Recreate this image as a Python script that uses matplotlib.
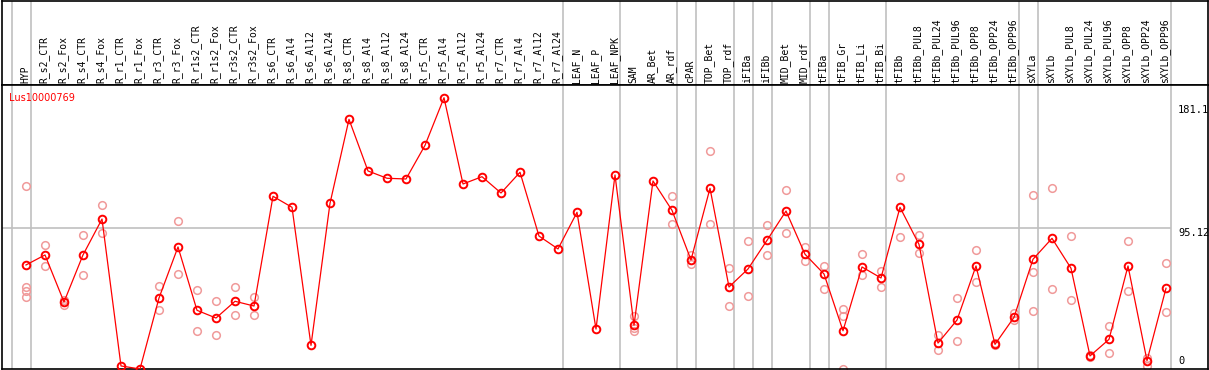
import matplotlib
matplotlib.use("Agg")
import matplotlib.pyplot as plt
import matplotlib.transforms as mtransforms

# Категорії (зразки)
labels = [
    "HYP", "R_s2_CTR", "R_s2_Fox", "R_s4_CTR", "R_s4_Fox", "R_r1_CTR", "R_r1_Fox",
    "R_r3_CTR", "R_r3_Fox", "R_r1s2_CTR", "R_r1s2_Fox", "R_r3s2_CTR", "R_r3s2_Fox",
    "R_s6_CTR", "R_s6_Al4", "R_s6_Al12", "R_s6_Al24", "R_s8_CTR", "R_s8_Al4",
    "R_s8_Al12", "R_s8_Al24", "R_r5_CTR", "R_r5_Al4", "R_r5_Al12", "R_r5_Al24",
    "R_r7_CTR", "R_r7_Al4", "R_r7_Al12", "R_r7_Al24", "LEAF_N", "LEAF_P", "LEAF_NPK",
    "SAM", "AR_Bet", "AR_rdf", "cPAR", "TOP_Bet", "TOP_rdf", "iFIBa", "iFIBb",
    "MID_Bet", "MID_rdf", "tFIBa", "tFIB_Gr", "tFIB_Li", "tFIB_Bi", "tFIBb",
    "tFIBb_PUL8", "tFIBb_PUL24", "tFIBb_PUL96", "tFIBb_OPP8", "tFIBb_OPP24", "tFIBb_OPP96",
    "sXYLa", "sXYLb", "sXYLb_PUL8", "sXYLb_PUL24", "sXYLb_PUL96", "sXYLb_OPP8",
    "sXYLb_OPP24", "sXYLb_OPP96",
]

# Середні значення
means = [
    69.3, 76.3, 43.4, 76.3, 101.4, -1.3, -3.4, 46.2, 81.9, 37.6, 32.2, 43.9, 40.6,
    117.3, 109.6, 13.1, 112.4, 171.1, 135.0, 129.9, 129.4, 152.9, 186.2, 125.9, 131.0,
    119.6, 134.1, 89.5, 80.5, 106.1, 24.5, 132.2,
    27.1, 128.0, 107.5, 72.8, 122.9, 53.9, 66.5, 86.5, 107.0, 76.8, 63.0, 23.3, 67.9,
    60.2, 109.6, 83.7, 14.7, 30.8, 68.6, 13.8, 32.7, 73.3, 87.9, 67.0, 5.7, 17.3,
    68.6, 2.4, 53.0,
]

# Повтори (окремі вимірювання)
replicates = [
    [124.5, 54.1, 51.3, 47.1], [83.0, 68.6], [44.8, 41.1], [90.0, 62.3], [111.0, 91.4],
    [], [], [54.6, 37.6], [100.0, 63.0], [51.6, 23.1], [43.9, 20.3], [53.7, 34.1],
    [46.9, 34.1], [], [], [], [], [], [], [], [], [], [], [], [], [], [], [], [], [],
    [], [], [33.8, 25.0, 23.3], [], [117.3, 97.7], [76.3, 69.8], [148.7, 97.7],
    [67.2, 40.4], [85.8, 47.4], [97.0, 76.1], [121.5, 91.4], [81.9, 71.9],
    [68.6, 52.3], [38.5, 33.8, -3.2], [77.2, 62.5], [65.1, 53.7], [130.6, 88.6],
    [90.0, 77.4], [20.3, 9.6], [46.0, 16.1], [79.5, 57.2], [15.0, 13.1], [35.5, 30.8],
    [118.0, 64.2, 36.9], [122.9, 52.3], [89.3, 44.6], [6.4, 5.0], [26.6, 7.5],
    [85.8, 50.9], [4.5, -1.1], [70.5, 36.2],
]

# Межі груп (після цих індексів)
group_ends = [-1, 0, 28, 31, 34, 35, 37, 38, 39, 41, 42, 45, 52, 53, 60]
y_ticks = [181.1, 95.12, 0]
gene = "Lus10000769"

W, H = 1209, 370
fig = plt.figure(figsize=(W / 100, H / 100), dpi=100)

x_lo = (2 - 26) / 19
x_hi = (1208 - 26) / 19
y_lo = (364.1 - 369) / 1.4306
y_hi = (364.1 - 85) / 1.4306

ax_top = fig.add_axes([2 / W, (H - 85) / H, 1206 / W, 84.5 / H])
ax = fig.add_axes([2 / W, (H - 369) / H, 1206 / W, (369 - 85) / H])

for a in (ax_top, ax):
    a.set_xlim(x_lo, x_hi)
    a.set_xticks([])
    a.set_yticks([])
    for s in a.spines.values():
        s.set_color("black")
        s.set_linewidth(1.2)
    for g in group_ends:
        a.axvline(g + 0.25, color="#c0c0c0", linewidth=1.2, zorder=1)

ax_top.set_ylim(0, 1)
ax.set_ylim(y_lo, y_hi)

trans = mtransforms.blended_transform_factory(ax_top.transData, ax_top.transAxes)
for i, lab in enumerate(labels):
    ax_top.text(i - 0.05, 0.02, lab, rotation=90, ha="center", va="bottom",
                fontsize=7, family="DejaVu Sans Mono", transform=trans)

ax.hlines(95.12, x_lo, group_ends[-1] + 0.25, color="#c0c0c0", linewidth=1.2, zorder=1)

# повтори
rx, ry = [], []
for i, reps in enumerate(replicates):
    for r in reps:
        rx.append(i)
        ry.append(r)
ax.plot(rx, ry, linestyle="none", marker="o", markersize=5.5, markerfacecolor="none",
        markeredgecolor="#f09a9a", markeredgewidth=1.1, zorder=2)

ax.plot(range(len(means)), means, color="#ff0000", linewidth=0.9, marker="o",
        markersize=5.5, markerfacecolor="none", markeredgecolor="#ff0000",
        markeredgewidth=1.4, zorder=3)

ax.text(-0.87, 1.0 - 8 / 284, gene, color="#ff0000", fontsize=7, ha="left", va="top",
        transform=mtransforms.blended_transform_factory(ax.transData, ax.transAxes))

tx = (1178 - 26) / 19
for v in y_ticks:
    if v == 0:
        ax.text(tx, v, "0", fontsize=7.5, family="DejaVu Sans Mono", ha="left", va="baseline")
    else:
        ax.text(tx, v, f"{v:g}", fontsize=7.5, family="DejaVu Sans Mono", ha="left", va="top")

fig.savefig("out.png", dpi=100)
